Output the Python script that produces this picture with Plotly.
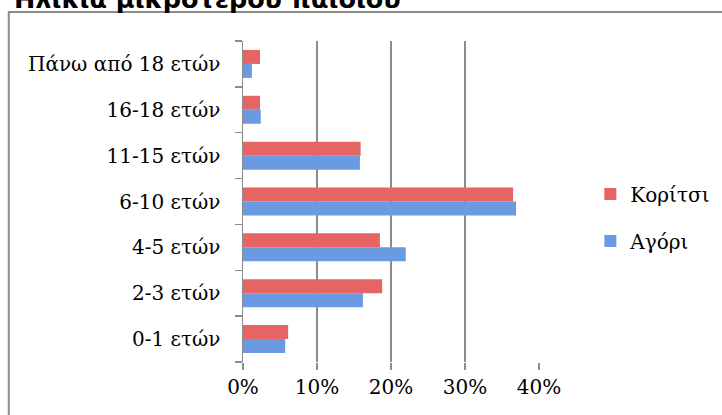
import plotly.graph_objects as go

categories = ["0-1 ετών", "2-3 ετών", "4-5 ετών", "6-10 ετών", "11-15 ετών", "16-18 ετών", "Πάνω από 18 ετών"]
boys = [0.057, 0.162, 0.220, 0.369, 0.158, 0.024, 0.012]
girls = [0.061, 0.188, 0.185, 0.365, 0.159, 0.023, 0.023]
tick_vals = [0, 0.1, 0.2, 0.3, 0.4]
tick_text = ["0%", "10%", "20%", "30%", "40%"]
title_text = "Ηλικία μικρότερου παιδιού"

W, H = 722, 415
L, R, T, B = 243, 538.7, 41, 362
pw, ph = R - L, B - T

def px(x):
    return (x - L) / pw

def py(y):
    return (B - y) / ph

serif = "DejaVu Serif"

fig = go.Figure()
fig.add_trace(go.Bar(y=categories, x=boys, orientation="h", name="Αγόρι",
                     marker=dict(color="#6a9be2", line=dict(width=0)), legend="legend2"))
fig.add_trace(go.Bar(y=categories, x=girls, orientation="h", name="Κορίτσι",
                     marker=dict(color="#e66464", line=dict(width=0)), legend="legend"))

fig.update_layout(
    width=W, height=H,
    margin=dict(l=L, r=W - R, t=T, b=H - B, pad=0, autoexpand=False),
    paper_bgcolor="white", plot_bgcolor="white",
    barmode="group", bargap=0.39, bargroupgap=0,
    font=dict(family=serif, size=20, color="black"),
    xaxis=dict(range=[0, 0.4], tickvals=tick_vals, ticktext=tick_text,
               showgrid=True, gridcolor="#8c8c8c", gridwidth=1.5,
               zeroline=False, showline=False, automargin=False,
               ticks="outside", ticklen=7, tickcolor="#8c8c8c", tickwidth=1.5,
               tickfont=dict(family=serif, size=20), fixedrange=True),
    yaxis=dict(type="category", categoryorder="array", categoryarray=categories,
               showline=True, linecolor="#8c8c8c", linewidth=1.5, automargin=False,
               ticks="outside", tickson="boundaries", ticklen=7, tickcolor="#8c8c8c", tickwidth=1.5,
               showgrid=False, ticklabelstandoff=17,
               tickfont=dict(family=serif, size=20), fixedrange=True),
    legend=dict(x=px(590), y=py(194), xanchor="left", yanchor="middle",
                font=dict(family=serif, size=20), bgcolor="rgba(0,0,0,0)"),
    legend2=dict(x=px(590), y=py(241), xanchor="left", yanchor="middle",
                 font=dict(family=serif, size=20), bgcolor="rgba(0,0,0,0)"),
    showlegend=True,
)

fig.add_shape(type="rect", xref="paper", yref="paper",
              x0=px(9), x1=px(740), y0=py(440), y1=py(12),
              line=dict(color="#8c8c8c", width=2), fillcolor="rgba(0,0,0,0)", layer="below")

fig.add_annotation(text="<b>" + title_text + "</b>", xref="paper", yref="paper",
                   x=px(12), y=py(-1.5), xanchor="left", yanchor="middle", showarrow=False,
                   font=dict(family="DejaVu Sans", size=25.5, color="black"))

fig.write_html("out.html", config={"displayModeBar": False, "staticPlot": True},
               post_script="document.body.style.margin='0';document.body.style.overflow='hidden';")
